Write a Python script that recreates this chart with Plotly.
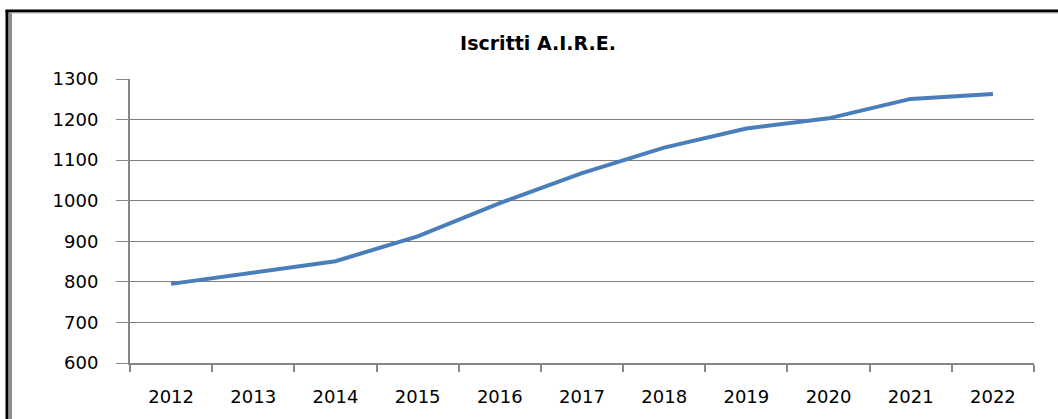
import plotly.graph_objects as go

years = ["2012", "2013", "2014", "2015", "2016", "2017", "2018", "2019", "2020", "2021", "2022"]
iscritti = [795, 824, 851, 912, 994, 1068, 1131, 1178, 1203, 1251, 1263]
y_ticks = [600, 700, 800, 900, 1000, 1100, 1200, 1300]

W, H = 1058, 419
L, R, T, B = 130, 24, 79, 56
pw, ph = W - L - R, H - T - B


def px(x):
    return (x - L) / pw


def py(y):
    return (H - B - y) / ph


fig = go.Figure()
fig.add_trace(go.Scatter(
    x=years, y=iscritti, mode="lines",
    line=dict(color="#4A7EBB", width=4),
    showlegend=False,
))

fig.update_layout(
    width=W, height=H,
    margin=dict(l=L, r=R, t=T, b=B),
    paper_bgcolor="white", plot_bgcolor="white",
    title=dict(text="<b>Iscritti A.I.R.E.</b>", x=538 / W, xanchor="center",
               y=1 - 43 / H, yanchor="middle",
               font=dict(family="DejaVu Sans", size=19, color="black")),
    xaxis=dict(
        type="category", range=[-0.5, 10.5], tickson="boundaries",
        ticks="outside", ticklen=7, tickwidth=2, tickcolor="#868686",
        showline=True, linecolor="#868686", linewidth=2,
        showgrid=False, ticklabelstandoff=16,
        tickfont=dict(family="DejaVu Sans", size=18, color="black"),
    ),
    yaxis=dict(
        range=[600, 1300], tickvals=y_ticks,
        ticks="outside", ticklen=12, tickwidth=1, tickcolor="#868686",
        showline=True, linecolor="#868686", linewidth=2,
        showgrid=True, gridcolor="#7F7F7F", gridwidth=1.3,
        zeroline=False, ticklabelstandoff=14,
        tickfont=dict(family="DejaVu Sans", size=18, color="black"),
    ),
    shapes=[
        dict(type="line", xref="paper", yref="paper", x0=px(7), x1=px(7), y0=py(10), y1=py(H + 5),
             line=dict(color="black", width=3)),
        dict(type="line", xref="paper", yref="paper", x0=px(10.5), x1=px(10.5), y0=py(12.5), y1=py(H + 5),
             line=dict(color="#8C8C8C", width=3)),
        dict(type="line", xref="paper", yref="paper", x0=px(5.5), x1=px(W + 5), y0=py(11), y1=py(11),
             line=dict(color="black", width=3)),
        dict(type="line", xref="paper", yref="paper", x0=px(9), x1=px(W + 5), y0=py(13), y1=py(13),
             line=dict(color="#B0B0B0", width=1)),
    ],
)

fig.write_html("out.html", config={"displayModeBar": False},
               post_script="document.body.style.margin='0';")
